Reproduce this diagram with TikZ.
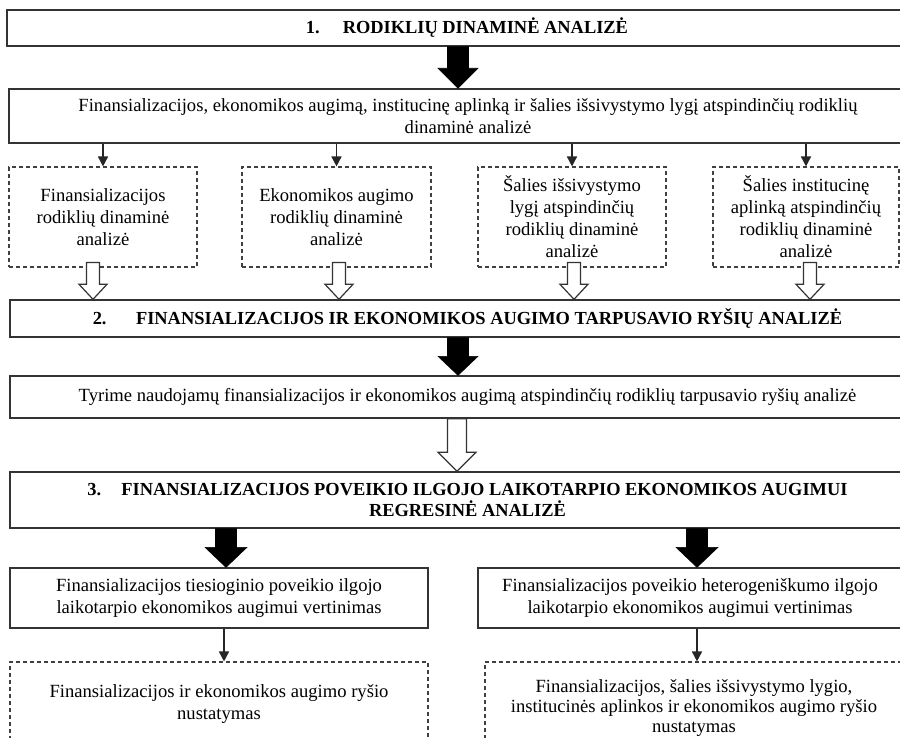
\documentclass[tikz,border=0pt]{standalone}
\usepackage{fontspec}
\setmainfont{Liberation Serif}
\usetikzlibrary{arrows.meta,calc}

% block arrow drawn between two points: style, start, end,
% half shaft width, half head width, head length
\newcommand\blockarrow[6]{%
  \path[#1] let \p1=(#2), \p2=(#3) in
    (\x1-#4,\y1) -- (\x1+#4,\y1) -- (\x1+#4,\y2+#6) -- (\x1+#5,\y2+#6)
    -- (\x1,\y2) -- (\x1-#5,\y2+#6) -- (\x1-#4,\y2+#6) -- cycle;}

\begin{document}
\begin{tikzpicture}[x=1pt,y=-1pt,
  txt/.style={font=\fontsize{18.6}{22}\selectfont, align=center, inner sep=0pt},
  solidbox/.style={txt, draw=black!80, line width=1.4pt, fill=white},
  dashbox/.style={txt, draw=black!75, line width=1.1pt, dash pattern=on 4pt off 3pt},
  headbox/.style={solidbox, font=\fontsize{18.4}{21.5}\selectfont\bfseries},
  thinarrow/.style={draw=black!85, line width=1.6pt, -{Triangle[width=10pt,length=10pt]}},
  solidarrow/.style={fill=black, draw=black, line width=0.6pt},
  hollowarrow/.style={fill=white, draw=black!80, line width=1.2pt, line join=miter}
]
\useasboundingbox (0,0) rectangle (900,738);

% stage 1
\node[headbox, minimum width=920pt, minimum height=36pt] (h1) at (467,28)
  {1.\hspace{1.25em}RODIKLIŲ DINAMINĖ ANALIZĖ};
\node[solidbox, minimum width=918pt, minimum height=54pt] (b2) at (468,116)
  {Finansializacijos, ekonomikos augimą, institucinę aplinką ir šalies išsivystymo lygį atspindinčių rodiklių\\dinaminė analizė};

\node[dashbox, minimum width=188pt, minimum height=100pt] (da) at (103,217)
  {Finansializacijos\\rodiklių dinaminė\\analizė};
\node[dashbox, minimum width=189pt, minimum height=100pt] (db) at (336.5,217)
  {Ekonomikos augimo\\rodiklių dinaminė\\analizė};
\node[dashbox, minimum width=188pt, minimum height=100pt] (dc) at (572,217)
  {Šalies išsivystymo\\lygį atspindinčių\\rodiklių dinaminė\\analizė};
\node[dashbox, minimum width=186pt, minimum height=100pt] (dd) at (806,217)
  {Šalies institucinę\\aplinką atspindinčių\\rodiklių dinaminė\\analizė};

% stage 2
\node[headbox, minimum width=915pt, minimum height=37pt] (h2) at (467.5,318.5)
  {2.\hspace{1.6em}FINANSIALIZACIJOS IR EKONOMIKOS AUGIMO TARPUSAVIO RYŠIŲ ANALIZĖ};
\node[solidbox, minimum width=915pt, minimum height=42pt] (b4) at (467.5,397)
  {Tyrime naudojamų finansializacijos ir ekonomikos augimą atspindinčių rodiklių tarpusavio ryšių analizė};

% stage 3
\node[headbox, minimum width=915pt, minimum height=56pt] (h3) at (467.5,500)
  {3.\hspace{1.1em}FINANSIALIZACIJOS POVEIKIO ILGOJO LAIKOTARPIO EKONOMIKOS AUGIMUI\\REGRESINĖ ANALIZĖ};
\node[solidbox, minimum width=418pt, minimum height=60pt] (lb) at (219,598)
  {Finansializacijos tiesioginio poveikio ilgojo\\laikotarpio ekonomikos augimui vertinimas};
\node[solidbox, minimum width=424pt, minimum height=60pt] (rb) at (690,598)
  {Finansializacijos poveikio heterogeniškumo ilgojo\\laikotarpio ekonomikos augimui vertinimas};
\node[dashbox, minimum width=418pt, minimum height=84pt] (ld) at (219,704)
  {Finansializacijos ir ekonomikos augimo ryšio\\nustatymas};
\node[dashbox, minimum width=418pt, minimum height=92pt, font=\fontsize{18.6}{20}\selectfont] (rd) at (694,708)
  {Finansializacijos, šalies išsivystymo lygio,\\institucinės aplinkos ir ekonomikos augimo ryšio\\nustatymas};

% solid block arrows
\blockarrow{solidarrow}{[xshift=-9pt]h1.south}{[xshift=-10pt]b2.north}{10.5pt}{20pt}{20pt}
\blockarrow{solidarrow}{[xshift=-9.5pt]h2.south}{[xshift=-9.5pt]b4.north}{10.5pt}{20pt}{19pt}
\blockarrow{solidarrow}{[xshift=7pt]h3.south -| lb.north}{[xshift=7pt]lb.north}{10.5pt}{21pt}{20pt}
\blockarrow{solidarrow}{[xshift=7pt]h3.south -| rb.north}{[xshift=7pt]rb.north}{10.5pt}{21pt}{20pt}

% thin arrows into the dashed boxes
\draw[thinarrow] (b2.south -| da.north) -- (da.north);
\draw[thinarrow] (b2.south -| db.north) -- (db.north);
\draw[thinarrow] (b2.south -| dc.north) -- (dc.north);
\draw[thinarrow] (b2.south -| dd.north) -- (dd.north);
\draw[thinarrow] ([xshift=5pt]lb.south) -- ([xshift=5pt]lb.south |- ld.north);
\draw[thinarrow] ([xshift=7pt]rb.south) -- ([xshift=7pt]rb.south |- rd.north);

% hollow block arrows
\blockarrow{hollowarrow}{[xshift=-10pt,yshift=5pt]da.south}{[xshift=-10pt]da.south |- h2.north}{6.5pt}{14pt}{15pt}
\blockarrow{hollowarrow}{[xshift=2.5pt,yshift=5pt]db.south}{[xshift=2.5pt]db.south |- h2.north}{6.5pt}{14pt}{15pt}
\blockarrow{hollowarrow}{[xshift=2pt,yshift=5pt]dc.south}{[xshift=2pt]dc.south |- h2.north}{6.5pt}{14pt}{15pt}
\blockarrow{hollowarrow}{[xshift=4pt,yshift=5pt]dd.south}{[xshift=4pt]dd.south |- h2.north}{6.5pt}{14pt}{15pt}
\blockarrow{hollowarrow}{[xshift=-10.5pt]b4.south}{[xshift=-10.5pt]h3.north}{9.5pt}{19pt}{19pt}
\end{tikzpicture}
\end{document}
